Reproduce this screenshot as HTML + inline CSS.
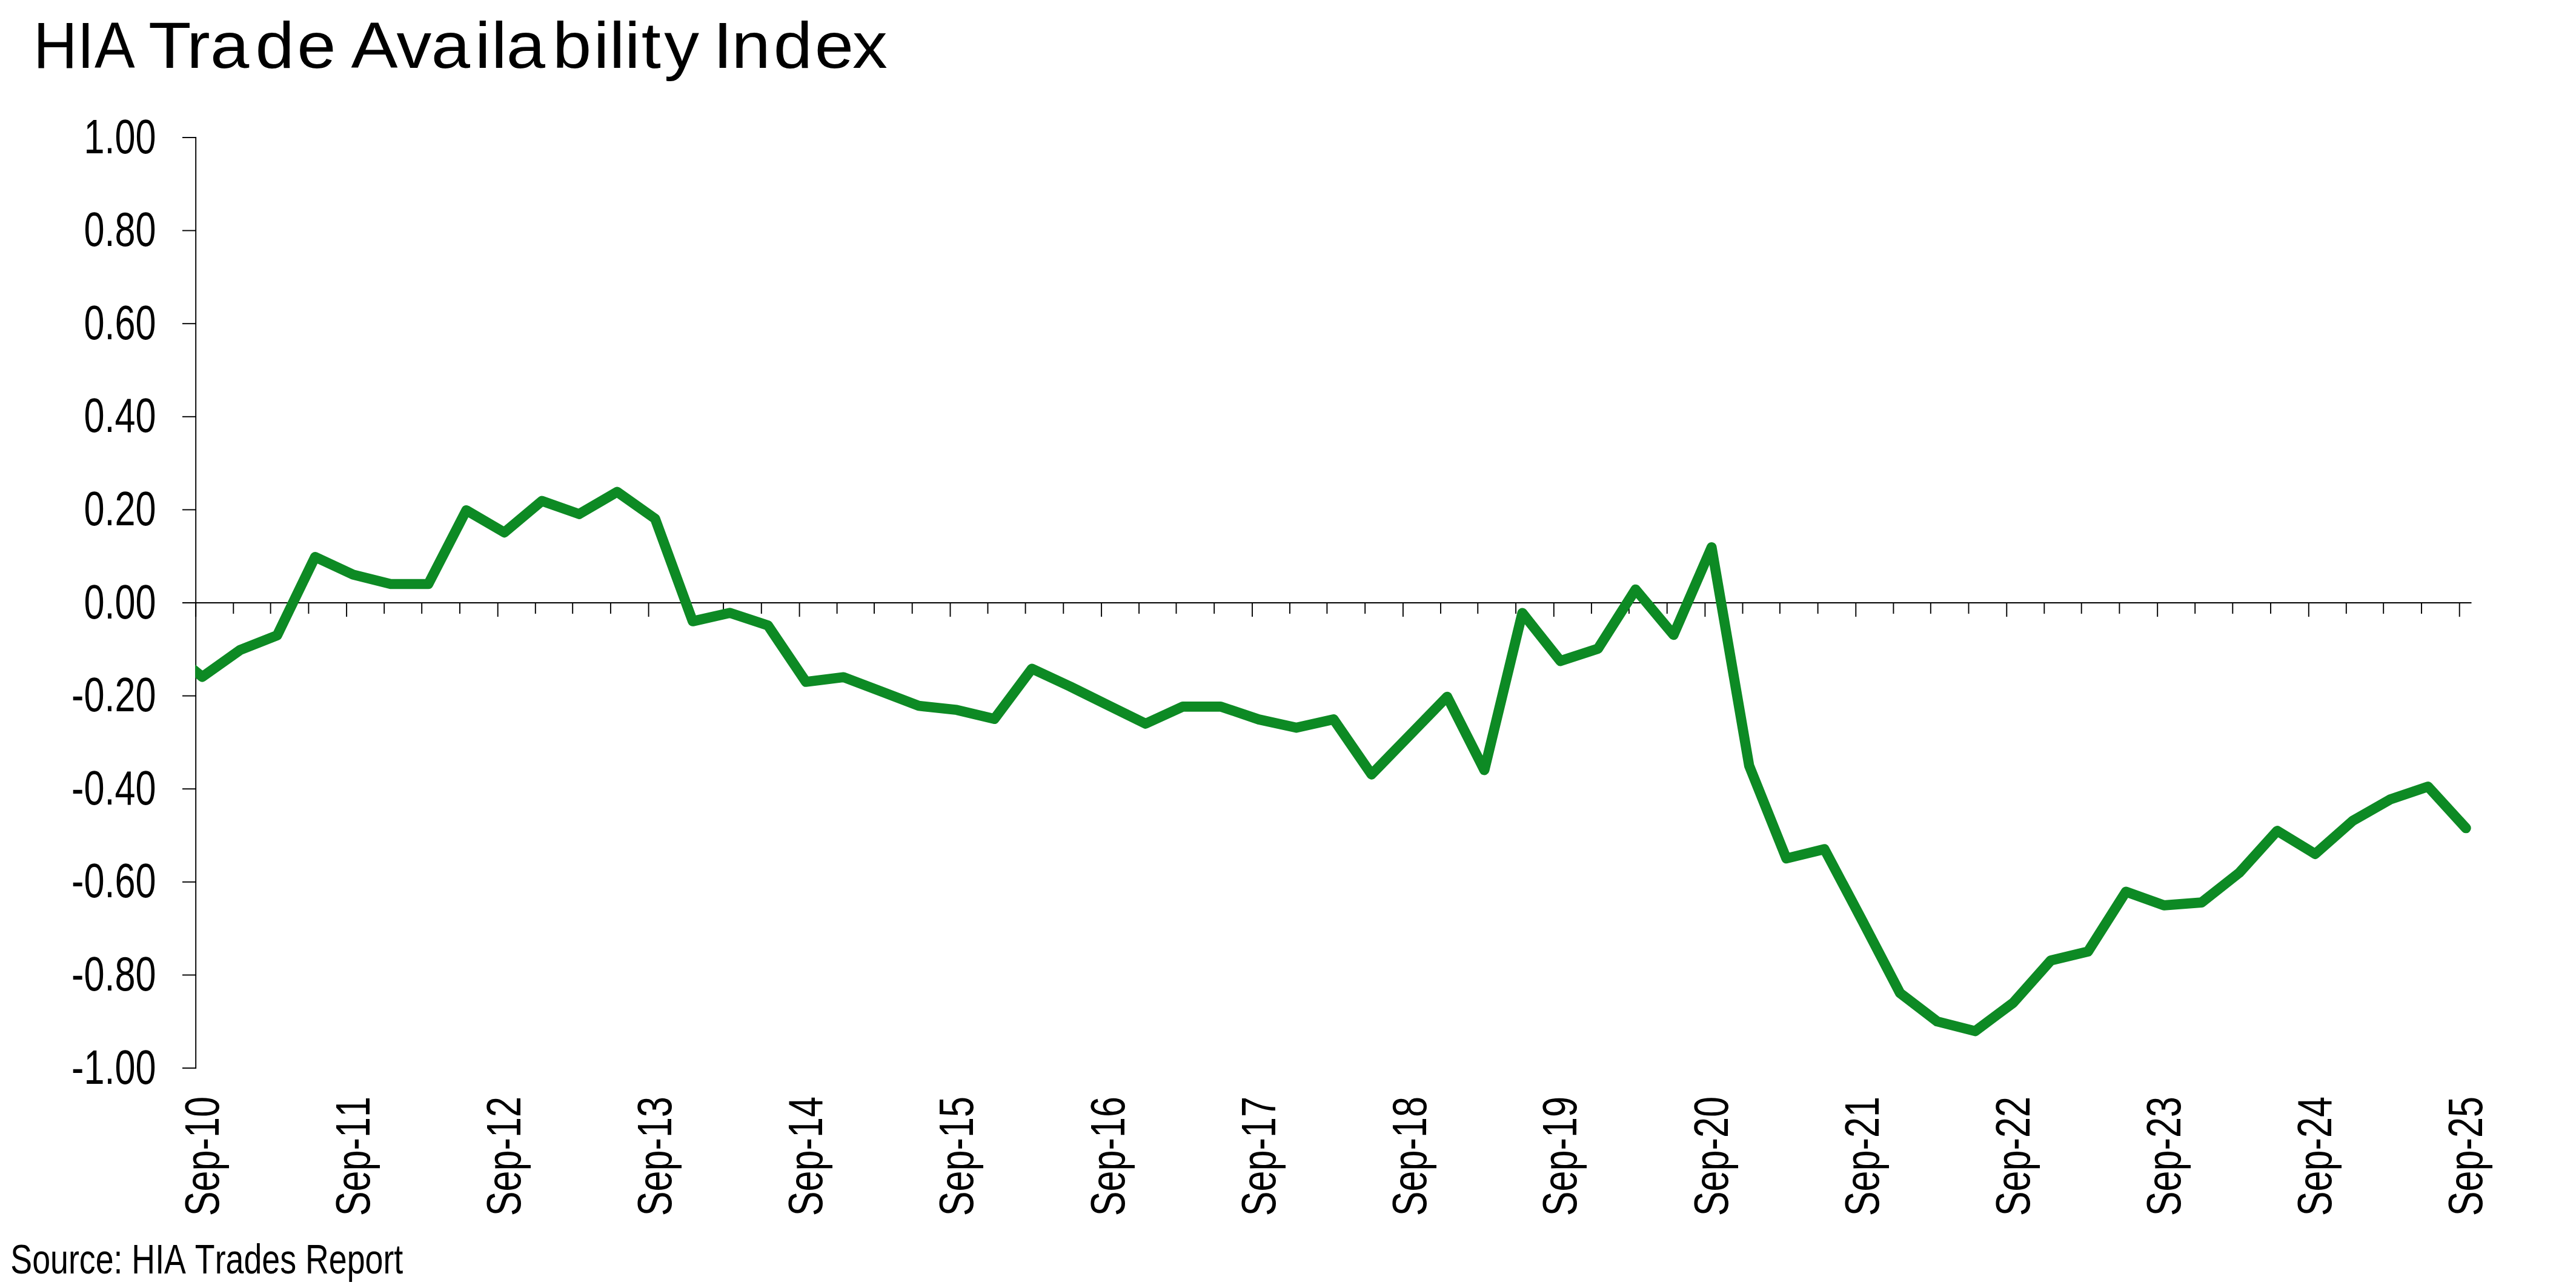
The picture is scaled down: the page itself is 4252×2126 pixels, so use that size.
<!DOCTYPE html><html><head><meta charset="utf-8"><title>HIA Trade Availability Index</title>
<style>html,body{margin:0;padding:0;background:#fff;overflow:hidden}svg{display:block}text{font-family:"Liberation Sans",sans-serif;fill:#000;font-kerning:none}</style></head><body>
<svg width="4252" height="2126" viewBox="0 0 4252 2126">
<rect width="4252" height="2126" fill="#fff"/>
<g font-size="108">
<text transform="translate(0,111.9) scale(0.9253,1)" x="59.8 137.7 168.7">HIA</text>
<text transform="translate(0,111.9) scale(1.0698,1)" x="229.0 288.2 324.4 393.9 458.3 515.0 541.7 611.8 665.4 732.8 758.1 781.3 852.6 915.8 940.1 963.8 989.7 1024.7 1077.4 1100.2 1128.7 1193.5 1257.1 1315.1">Trade Availability Index</text>
</g>
<g stroke="#000" stroke-width="1.9" fill="none" shape-rendering="auto">
<line x1="323.2" y1="226.0" x2="323.2" y2="1764.0"/>
<line x1="301.0" y1="995.0" x2="4079.5" y2="995.0"/>
<line x1="301" y1="227.0" x2="323.2" y2="227.0"/>
<line x1="301" y1="380.6" x2="323.2" y2="380.6"/>
<line x1="301" y1="534.2" x2="323.2" y2="534.2"/>
<line x1="301" y1="687.8" x2="323.2" y2="687.8"/>
<line x1="301" y1="841.4" x2="323.2" y2="841.4"/>
<line x1="301" y1="1148.6" x2="323.2" y2="1148.6"/>
<line x1="301" y1="1302.2" x2="323.2" y2="1302.2"/>
<line x1="301" y1="1455.8" x2="323.2" y2="1455.8"/>
<line x1="301" y1="1609.4" x2="323.2" y2="1609.4"/>
<line x1="301" y1="1763.0" x2="323.2" y2="1763.0"/>
<line x1="323.2" y1="995.0" x2="323.2" y2="1018.0"/>
<line x1="385.3" y1="995.0" x2="385.3" y2="1013.0"/>
<line x1="446.6" y1="995.0" x2="446.6" y2="1013.0"/>
<line x1="509.4" y1="995.0" x2="509.4" y2="1013.0"/>
<line x1="572.1" y1="995.0" x2="572.1" y2="1018.0"/>
<line x1="634.2" y1="995.0" x2="634.2" y2="1013.0"/>
<line x1="696.2" y1="995.0" x2="696.2" y2="1013.0"/>
<line x1="759.0" y1="995.0" x2="759.0" y2="1013.0"/>
<line x1="821.7" y1="995.0" x2="821.7" y2="1018.0"/>
<line x1="883.8" y1="995.0" x2="883.8" y2="1013.0"/>
<line x1="945.2" y1="995.0" x2="945.2" y2="1013.0"/>
<line x1="1007.9" y1="995.0" x2="1007.9" y2="1013.0"/>
<line x1="1070.6" y1="995.0" x2="1070.6" y2="1018.0"/>
<line x1="1132.7" y1="995.0" x2="1132.7" y2="1013.0"/>
<line x1="1194.1" y1="995.0" x2="1194.1" y2="1013.0"/>
<line x1="1256.8" y1="995.0" x2="1256.8" y2="1013.0"/>
<line x1="1319.6" y1="995.0" x2="1319.6" y2="1018.0"/>
<line x1="1381.6" y1="995.0" x2="1381.6" y2="1013.0"/>
<line x1="1443.0" y1="995.0" x2="1443.0" y2="1013.0"/>
<line x1="1505.7" y1="995.0" x2="1505.7" y2="1013.0"/>
<line x1="1568.5" y1="995.0" x2="1568.5" y2="1018.0"/>
<line x1="1630.5" y1="995.0" x2="1630.5" y2="1013.0"/>
<line x1="1692.6" y1="995.0" x2="1692.6" y2="1013.0"/>
<line x1="1755.3" y1="995.0" x2="1755.3" y2="1013.0"/>
<line x1="1818.1" y1="995.0" x2="1818.1" y2="1018.0"/>
<line x1="1880.1" y1="995.0" x2="1880.1" y2="1013.0"/>
<line x1="1941.5" y1="995.0" x2="1941.5" y2="1013.0"/>
<line x1="2004.2" y1="995.0" x2="2004.2" y2="1013.0"/>
<line x1="2067.0" y1="995.0" x2="2067.0" y2="1018.0"/>
<line x1="2129.0" y1="995.0" x2="2129.0" y2="1013.0"/>
<line x1="2190.4" y1="995.0" x2="2190.4" y2="1013.0"/>
<line x1="2253.2" y1="995.0" x2="2253.2" y2="1013.0"/>
<line x1="2315.9" y1="995.0" x2="2315.9" y2="1018.0"/>
<line x1="2378.0" y1="995.0" x2="2378.0" y2="1013.0"/>
<line x1="2439.3" y1="995.0" x2="2439.3" y2="1013.0"/>
<line x1="2502.1" y1="995.0" x2="2502.1" y2="1013.0"/>
<line x1="2564.8" y1="995.0" x2="2564.8" y2="1018.0"/>
<line x1="2626.9" y1="995.0" x2="2626.9" y2="1013.0"/>
<line x1="2688.9" y1="995.0" x2="2688.9" y2="1013.0"/>
<line x1="2751.7" y1="995.0" x2="2751.7" y2="1013.0"/>
<line x1="2814.4" y1="995.0" x2="2814.4" y2="1018.0"/>
<line x1="2876.5" y1="995.0" x2="2876.5" y2="1013.0"/>
<line x1="2937.9" y1="995.0" x2="2937.9" y2="1013.0"/>
<line x1="3000.6" y1="995.0" x2="3000.6" y2="1013.0"/>
<line x1="3063.3" y1="995.0" x2="3063.3" y2="1018.0"/>
<line x1="3125.4" y1="995.0" x2="3125.4" y2="1013.0"/>
<line x1="3186.8" y1="995.0" x2="3186.8" y2="1013.0"/>
<line x1="3249.5" y1="995.0" x2="3249.5" y2="1013.0"/>
<line x1="3312.3" y1="995.0" x2="3312.3" y2="1018.0"/>
<line x1="3374.3" y1="995.0" x2="3374.3" y2="1013.0"/>
<line x1="3435.7" y1="995.0" x2="3435.7" y2="1013.0"/>
<line x1="3498.4" y1="995.0" x2="3498.4" y2="1013.0"/>
<line x1="3561.2" y1="995.0" x2="3561.2" y2="1018.0"/>
<line x1="3623.2" y1="995.0" x2="3623.2" y2="1013.0"/>
<line x1="3685.3" y1="995.0" x2="3685.3" y2="1013.0"/>
<line x1="3748.0" y1="995.0" x2="3748.0" y2="1013.0"/>
<line x1="3810.8" y1="995.0" x2="3810.8" y2="1018.0"/>
<line x1="3872.8" y1="995.0" x2="3872.8" y2="1013.0"/>
<line x1="3934.2" y1="995.0" x2="3934.2" y2="1013.0"/>
<line x1="3997.0" y1="995.0" x2="3997.0" y2="1013.0"/>
<line x1="4059.7" y1="995.0" x2="4059.7" y2="1018.0"/>
</g>
<clipPath id="c"><rect x="322.2" y="0" width="4252.0" height="2126"/></clipPath>
<polyline clip-path="url(#c)" points="271.2,1066.0 333.9,1117.3 396.0,1073.1 457.4,1048.8 520.1,919.3 582.9,948.5 644.9,964.0 707.0,964.0 769.7,842.3 832.5,878.9 894.5,826.8 955.9,848.5 1018.6,811.9 1081.4,856.3 1143.4,1025.5 1204.8,1011.6 1267.6,1032.4 1330.3,1125.5 1392.4,1117.8 1453.7,1141.0 1516.5,1165.0 1579.2,1171.8 1641.3,1186.7 1703.3,1103.8 1766.1,1133.0 1828.8,1164.0 1890.9,1194.5 1952.3,1166.3 2015.0,1166.3 2077.7,1187.5 2139.8,1201.2 2201.2,1187.3 2263.9,1278.3 2326.7,1213.7 2388.7,1150.0 2450.1,1271.1 2512.8,1011.8 2575.6,1091.0 2637.6,1070.8 2699.7,973.0 2762.4,1048.0 2825.2,903.3 2887.2,1263.9 2948.6,1417.0 3011.4,1401.6 3074.1,1520.0 3136.2,1639.2 3197.5,1686.0 3260.3,1702.0 3323.0,1655.2 3385.1,1585.4 3446.4,1570.7 3509.2,1471.8 3571.9,1494.3 3634.0,1489.6 3696.0,1440.8 3758.8,1371.4 3821.5,1409.6 3883.6,1354.7 3945.0,1319.7 4007.7,1298.4 4070.4,1367.0" fill="none" stroke="#0d8a24" stroke-width="16.7" stroke-linejoin="round" stroke-linecap="round"/>
<text transform="translate(257.6,252.5) scale(0.770,1)" font-size="79.5" text-anchor="end">1.00</text>
<text transform="translate(257.6,406.1) scale(0.770,1)" font-size="79.5" text-anchor="end">0.80</text>
<text transform="translate(257.6,559.7) scale(0.770,1)" font-size="79.5" text-anchor="end">0.60</text>
<text transform="translate(257.6,713.3) scale(0.770,1)" font-size="79.5" text-anchor="end">0.40</text>
<text transform="translate(257.6,866.9) scale(0.770,1)" font-size="79.5" text-anchor="end">0.20</text>
<text transform="translate(257.6,1020.5) scale(0.770,1)" font-size="79.5" text-anchor="end">0.00</text>
<text transform="translate(257.6,1174.1) scale(0.770,1)" font-size="79.5" text-anchor="end">-0.20</text>
<text transform="translate(257.6,1327.7) scale(0.770,1)" font-size="79.5" text-anchor="end">-0.40</text>
<text transform="translate(257.6,1481.3) scale(0.770,1)" font-size="79.5" text-anchor="end">-0.60</text>
<text transform="translate(257.6,1634.9) scale(0.770,1)" font-size="79.5" text-anchor="end">-0.80</text>
<text transform="translate(257.6,1788.5) scale(0.770,1)" font-size="79.5" text-anchor="end">-1.00</text>
<text transform="translate(360.7,2007.3) rotate(-90) scale(0.770,1)" font-size="79.5">Sep-10</text>
<text transform="translate(609.7,2007.3) rotate(-90) scale(0.770,1)" font-size="79.5">Sep-11</text>
<text transform="translate(859.3,2007.3) rotate(-90) scale(0.770,1)" font-size="79.5">Sep-12</text>
<text transform="translate(1108.2,2007.3) rotate(-90) scale(0.770,1)" font-size="79.5">Sep-13</text>
<text transform="translate(1357.1,2007.3) rotate(-90) scale(0.770,1)" font-size="79.5">Sep-14</text>
<text transform="translate(1606.0,2007.3) rotate(-90) scale(0.770,1)" font-size="79.5">Sep-15</text>
<text transform="translate(1855.6,2007.3) rotate(-90) scale(0.770,1)" font-size="79.5">Sep-16</text>
<text transform="translate(2104.5,2007.3) rotate(-90) scale(0.770,1)" font-size="79.5">Sep-17</text>
<text transform="translate(2353.5,2007.3) rotate(-90) scale(0.770,1)" font-size="79.5">Sep-18</text>
<text transform="translate(2602.4,2007.3) rotate(-90) scale(0.770,1)" font-size="79.5">Sep-19</text>
<text transform="translate(2852.0,2007.3) rotate(-90) scale(0.770,1)" font-size="79.5">Sep-20</text>
<text transform="translate(3100.9,2007.3) rotate(-90) scale(0.770,1)" font-size="79.5">Sep-21</text>
<text transform="translate(3349.8,2007.3) rotate(-90) scale(0.770,1)" font-size="79.5">Sep-22</text>
<text transform="translate(3598.7,2007.3) rotate(-90) scale(0.770,1)" font-size="79.5">Sep-23</text>
<text transform="translate(3848.3,2007.3) rotate(-90) scale(0.770,1)" font-size="79.5">Sep-24</text>
<text transform="translate(4097.2,2007.3) rotate(-90) scale(0.770,1)" font-size="79.5">Sep-25</text>
<text transform="translate(17.3,2102) scale(0.7903,1)" font-size="68">Source: HIA Trades Report</text>
</svg></body></html>
